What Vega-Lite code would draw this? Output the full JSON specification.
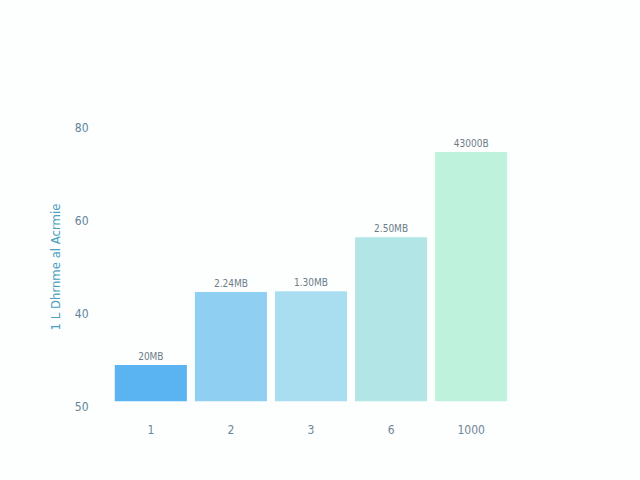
{
  "$schema": "https://vega.github.io/schema/vega-lite/v6.json",
  "background": "#fdfefe",
  "autosize": {"type": "none"},
  "padding": {"left": 110, "top": 127, "right": 128, "bottom": 74},
  "width": 402,
  "height": 279,
  "data": {
    "values": [
      {"cat": "1", "value": 28.8, "label": "20MB", "color": "c1"},
      {"cat": "2", "value": 44.5, "label": "2.24MB", "color": "c2"},
      {"cat": "3", "value": 44.7, "label": "1.30MB", "color": "c3"},
      {"cat": "6", "value": 56.3, "label": "2.50MB", "color": "c4"},
      {"cat": "1000", "value": 74.6, "label": "43000B", "color": "c5"}
    ]
  },
  "view": {"stroke": null},
  "encoding": {
    "x": {
      "field": "cat",
      "type": "nominal",
      "sort": null,
      "title": null,
      "scale": {"paddingInner": 0.1, "paddingOuter": 0.06},
      "axis": {
        "domain": false,
        "ticks": false,
        "labelAngle": 0,
        "labelPadding": 18,
        "labelFontSize": 12,
        "labelColor": "#6f8696"
      }
    },
    "y": {
      "field": "value",
      "type": "quantitative",
      "title": "1 L Dhrnme al Acrmie",
      "scale": {"domain": [20, 80], "zero": false},
      "axis": {
        "values": [20, 40, 60, 80],
        "labelExpr": "datum.value == 20 ? '50' : datum.label",
        "domain": false,
        "ticks": false,
        "grid": false,
        "labelPadding": 22,
        "labelFontSize": 12,
        "labelColor": "#5f8499",
        "titleColor": "#4b9fbf",
        "titleFontSize": 13,
        "titleFontWeight": "normal",
        "titlePadding": 12
      }
    }
  },
  "layer": [
    {
      "mark": {"type": "bar"},
      "encoding": {
        "y2": {"datum": 21},
        "color": {
          "field": "color",
          "type": "nominal",
          "legend": null,
          "scale": {
            "domain": ["c1", "c2", "c3", "c4", "c5"],
            "range": ["#5ab4f2", "#8fcff2", "#a8def0", "#b2e6e6", "#bff2dc"]
          }
        }
      }
    },
    {
      "mark": {"type": "text", "dy": -8, "fontSize": 10, "color": "#6b7d88"},
      "encoding": {
        "text": {"field": "label"}
      }
    }
  ],
  "config": {
    "font": "Liberation Sans Narrow, DejaVu Sans Condensed, sans-serif"
  }
}
